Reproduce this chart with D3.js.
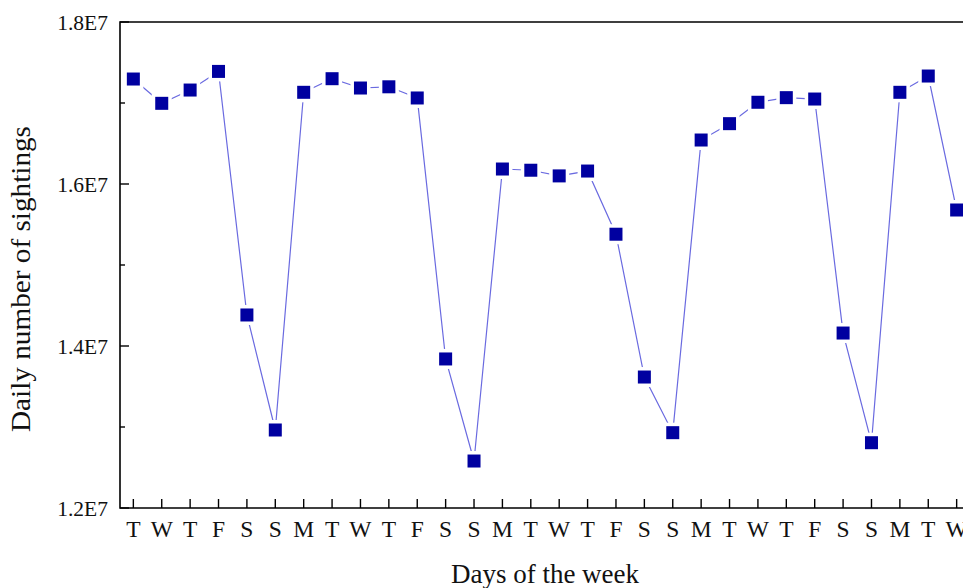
<!DOCTYPE html>
<html>
<head>
<meta charset="utf-8">
<script src="https://cdn.jsdelivr.net/npm/d3@7"></script>
<style>
  body { margin: 0; background: #fff; overflow: hidden; }
  svg { display: block; font-family: "Liberation Serif", "Times New Roman", serif; }
</style>
</head>
<body>
<svg id="chart"></svg>
<script>
// day labels along the bottom axis
const days = ['T','W','T','F','S','S','M','T','W','T','F','S','S','M','T','W','T','F','S','S','M','T','W','T','F','S','S','M','T','W'];
// daily sightings
const sightings = [1.7296e7, 1.6996e7, 1.716e7, 1.739e7, 1.4383e7, 1.2963e7, 1.7132e7, 1.730e7, 1.7185e7, 1.720e7,
  1.7062e7, 1.384e7, 1.258e7, 1.6185e7, 1.617e7, 1.610e7, 1.616e7, 1.538e7, 1.3617e7, 1.293e7,
  1.6543e7, 1.6745e7, 1.7009e7, 1.7066e7, 1.7049e7, 1.416e7, 1.2806e7, 1.7132e7, 1.7333e7, 1.5679e7];
const yTicks = [1.2e7, 1.4e7, 1.6e7, 1.8e7];
const yMinor = [1.3e7, 1.5e7, 1.7e7];

const width = 963, height = 588;
const margin = {top: 22, left: 120, bottom: 80};
const plotBottom = height - margin.bottom; // 508

const svg = d3.select('#chart').attr('width', width).attr('height', height);

const x = d3.scaleLinear().domain([-0.47, 30.5]).range([margin.left, margin.left + 30.97 * 28.39]);
const y = d3.scaleLinear().domain([1.2e7, 1.8e7]).range([plotBottom, margin.top]);

// frame (right side runs off the page)
const right = x(30.5);
svg.append('path')
  .attr('d', `M${right},${margin.top}H${margin.left}V${plotBottom}H${right}`)
  .attr('fill', 'none').attr('stroke', '#000').attr('stroke-width', 1.6);

// y ticks, pointing inward
svg.selectAll('.ytick').data(yTicks).enter().append('line')
  .attr('x1', margin.left).attr('x2', margin.left + 9)
  .attr('y1', d => y(d)).attr('y2', d => y(d))
  .attr('stroke', '#000').attr('stroke-width', 1.4);
svg.selectAll('.yminor').data(yMinor).enter().append('line')
  .attr('x1', margin.left).attr('x2', margin.left + 5)
  .attr('y1', d => y(d)).attr('y2', d => y(d))
  .attr('stroke', '#000').attr('stroke-width', 1.4);
svg.selectAll('.ylab').data(yTicks).enter().append('text')
  .attr('x', 108).attr('y', d => y(d)).attr('dy', '0.35em')
  .attr('text-anchor', 'end').attr('font-size', 21.5).attr('fill', '#111')
  .text(d => (d / 1e7).toFixed(1) + 'E7');

// x ticks and day labels
svg.selectAll('.xtick').data(days).enter().append('line')
  .attr('x1', (d, i) => x(i)).attr('x2', (d, i) => x(i))
  .attr('y1', plotBottom).attr('y2', plotBottom - 9)
  .attr('stroke', '#000').attr('stroke-width', 1.4);
svg.selectAll('.xlab').data(days).enter().append('text')
  .attr('x', (d, i) => x(i)).attr('y', 537)
  .attr('text-anchor', 'middle').attr('font-size', 23.5).attr('fill', '#111')
  .text(d => d);

// axis titles
svg.append('text')
  .attr('transform', `translate(30,279) rotate(-90)`)
  .attr('text-anchor', 'middle').attr('font-size', 27).attr('fill', '#111')
  .attr('textLength', 306).attr('lengthAdjust', 'spacingAndGlyphs')
  .text('Daily number of sightings');
svg.append('text')
  .attr('x', 545).attr('y', 583)
  .attr('text-anchor', 'middle').attr('font-size', 27).attr('fill', '#111')
  .text('Days of the week');

// line and markers
const line = d3.line().x((d, i) => x(i)).y(d => y(d));
svg.append('path').datum(sightings)
  .attr('d', line).attr('fill', 'none')
  .attr('stroke', '#6a6ae0').attr('stroke-width', 1.2);

const pts = svg.selectAll('.pt').data(sightings).enter().append('g')
  .attr('transform', (d, i) => `translate(${x(i)},${y(d)})`);
pts.append('rect').attr('x', -10).attr('y', -10).attr('width', 20).attr('height', 20).attr('fill', '#fff');
pts.append('rect').attr('x', -6.5).attr('y', -6.5).attr('width', 13).attr('height', 13).attr('fill', '#0000a0');
</script>
</body>
</html>
